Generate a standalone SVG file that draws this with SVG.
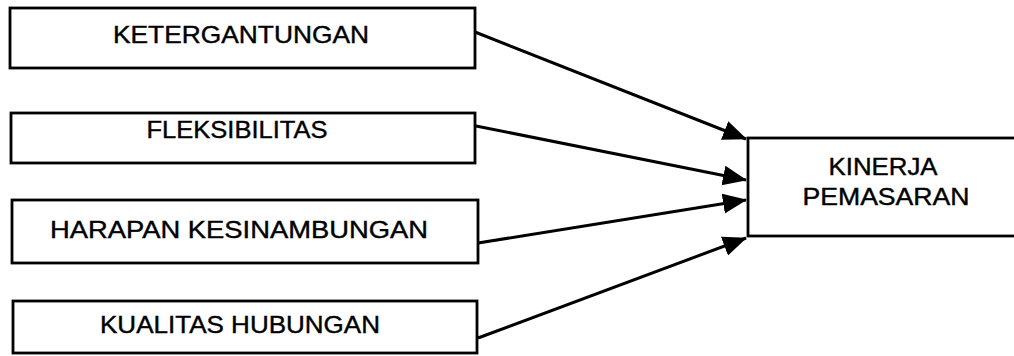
<svg xmlns="http://www.w3.org/2000/svg" width="1014" height="356" viewBox="0 0 1014 356">
  <style>
    .box { fill: #ffffff; stroke: #000000; stroke-width: 2.8; }
    .label { font-family: "Liberation Sans", Arial, sans-serif; font-size: 24px; fill: #000000; stroke: #000000; stroke-width: 0.4; text-anchor: middle; }
    .link { stroke: #000000; stroke-width: 3; fill: none; marker-end: url(#head); }
  </style>
  <defs>
    <marker id="head" markerUnits="userSpaceOnUse" markerWidth="24" markerHeight="22" viewBox="0 0 24 22" refX="23" refY="11" orient="auto">
      <path d="M0,1 L24,11 L0,21 Z" fill="#000000"/>
    </marker>
  </defs>
  <rect width="1014" height="356" fill="#ffffff"/>

  <g id="connectors">
    <line class="link" x1="475" y1="32" x2="746" y2="139"/>
    <line class="link" x1="476" y1="126" x2="746" y2="180"/>
    <line class="link" x1="478" y1="243" x2="746" y2="200"/>
    <line class="link" x1="478" y1="338" x2="746" y2="238"/>
  </g>

  <g id="ketergantungan">
    <rect class="box" x="10" y="8" width="465" height="60"/>
    <text class="label" x="241" y="43" textLength="256" lengthAdjust="spacingAndGlyphs">KETERGANTUNGAN</text>
  </g>

  <g id="fleksibilitas">
    <rect class="box" x="11" y="113" width="464" height="50"/>
    <text class="label" x="237" y="138" textLength="181" lengthAdjust="spacingAndGlyphs">FLEKSIBILITAS</text>
  </g>

  <g id="harapan-kesinambungan">
    <rect class="box" x="12" y="200" width="466" height="63"/>
    <text class="label" x="239" y="238" textLength="378" lengthAdjust="spacingAndGlyphs">HARAPAN KESINAMBUNGAN</text>
  </g>

  <g id="kualitas-hubungan">
    <rect class="box" x="13" y="301" width="464" height="52"/>
    <text class="label" x="240" y="333" textLength="280" lengthAdjust="spacingAndGlyphs">KUALITAS HUBUNGAN</text>
  </g>

  <g id="kinerja-pemasaran">
    <rect class="box" x="748" y="138" width="300" height="98"/>
    <text class="label" x="883" y="175" textLength="109" lengthAdjust="spacingAndGlyphs">KINERJA</text>
    <text class="label" x="886" y="205" textLength="167" lengthAdjust="spacingAndGlyphs">PEMASARAN</text>
  </g>
</svg>
